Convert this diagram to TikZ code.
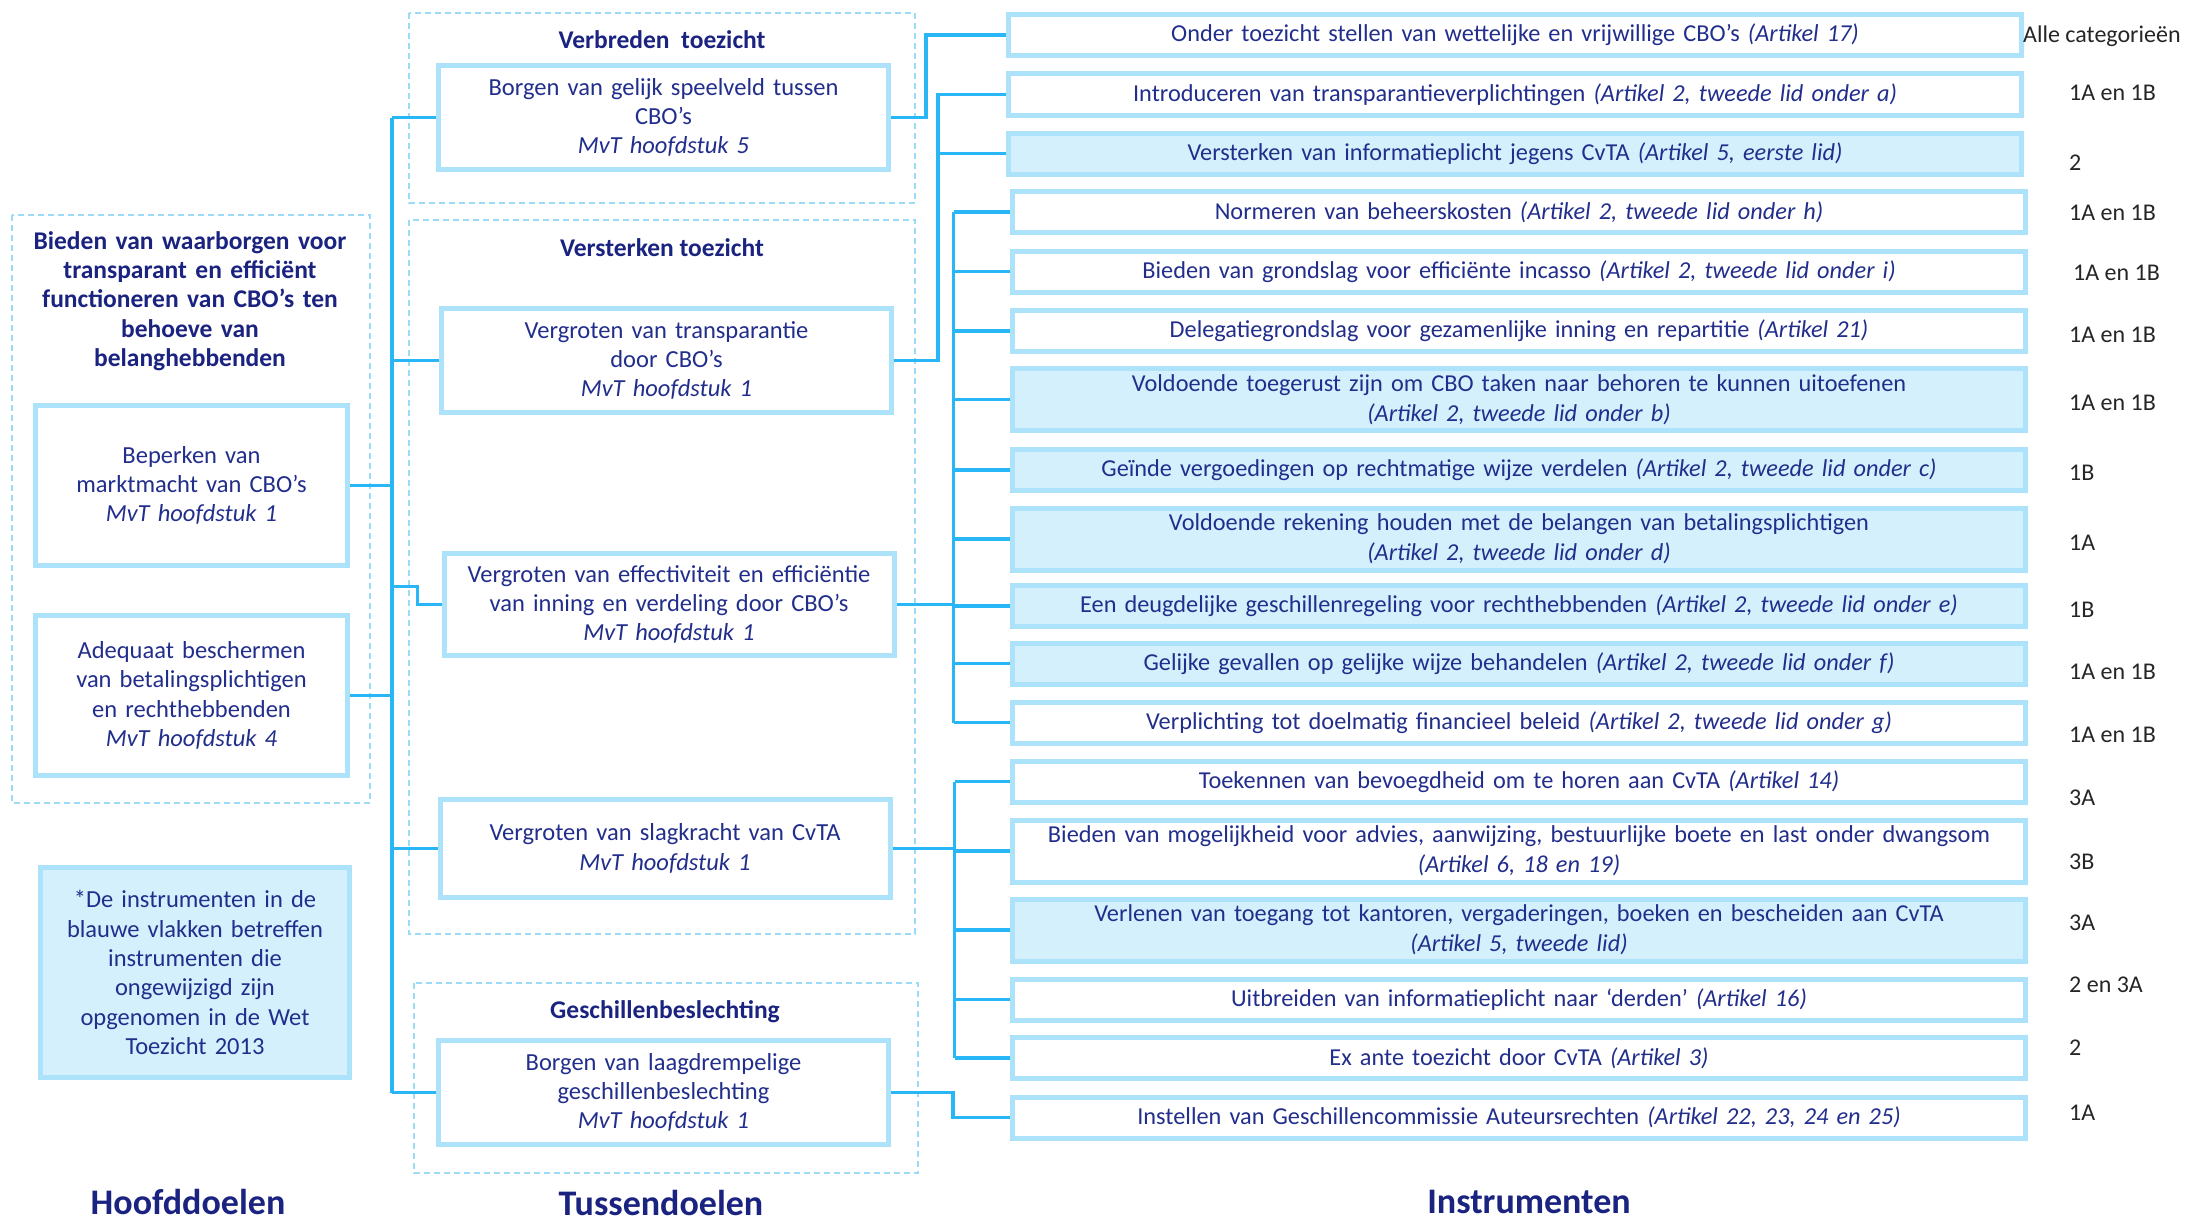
\documentclass[tikz,border=0pt]{standalone}
\usepackage{fontspec}
\setmainfont{Carlito}
\definecolor{navyc}{HTML}{222E8C}
\definecolor{titlec}{HTML}{1A2380}
\definecolor{connc}{HTML}{29B6F6}
\definecolor{bordc}{HTML}{ACE3FA}
\definecolor{fillc}{HTML}{D4F0FD}
\definecolor{dashc}{HTML}{9ADCF8}
\tikzset{
  conn/.style={draw=connc, line width=3.5pt},
  ibox/.style={draw=bordc, line width=5pt, fill=white, text=navyc, align=center, inner sep=0pt, text width=1013pt, minimum height=41pt, font=\fontsize{24.3}{30}\selectfont},
  iboxb/.style={ibox, fill=fillc},
  tall/.style={minimum height=62pt},
  mbox/.style={draw=bordc, line width=5pt, fill=white, text=navyc, align=center, inner sep=0pt, text width=450pt, minimum height=104pt, font=\fontsize{24.5}{29.3}\selectfont},
  hbox/.style={mbox, text width=312pt, minimum height=160pt},
  grp/.style={draw=dashc, line width=1.5pt, dash pattern=on 6pt off 4pt},
  ttl/.style={text=titlec, align=center, inner sep=0pt, font=\bfseries\fontsize{25.5}{29.3}\selectfont},
  cat/.style={anchor=west, text=black!85, inner sep=0pt, font=\fontsize{24}{28}\selectfont},
  colhead/.style={text=titlec, inner sep=0pt, font=\bfseries\fontsize{36}{40}\selectfont}
}
\begin{document}
\begin{tikzpicture}[x=1pt, y=-1pt]
\fill[white] (0,0) rectangle (2193,1223);
\useasboundingbox (0,0) rectangle (2193,1223);

% dashed groups
\draw[grp] (12,215) rectangle (370,803);
\draw[grp] (409,13) rectangle (915,203);
\draw[grp] (409,220) rectangle (915,934);
\draw[grp] (414,983) rectangle (918,1173);

% left column
\node[ttl, text width=340pt] (hoofdtitel) at (190,301) {Bieden van waarborgen voor\\ transparant en effici\"ent\\ functioneren van CBO’s ten\\ behoeve van\\ belanghebbenden};
\node[hbox] (h1) at (191.5,485.5) {Beperken van\\ marktmacht van CBO’s\\ \textit{MvT hoofdstuk 1}};
\node[hbox] (h2) at (191.5,695.5) {Adequaat beschermen\\ van betalingsplichtigen\\ en rechthebbenden\\ \textit{MvT hoofdstuk 4}};
\node[hbox, fill=fillc, text width=309pt, minimum height=210pt] (note) at (195,972.5) {*De instrumenten in de\\ blauwe vlakken betreffen\\ instrumenten die\\ ongewijzigd zijn\\ opgenomen in de Wet\\ Toezicht 2013};

% middle column
\node[ttl] (t1) at (662,40) {Verbreden\ \ toezicht};
\node[ttl] (t2) at (662,248) {Versterken toezicht};
\node[ttl] (t3) at (665,1012) {Geschillenbeslechting};
\node[mbox] (m1) at (663.5,117.5) {Borgen van gelijk speelveld tussen\\ CBO’s\\ \textit{MvT hoofdstuk 5}};
\node[mbox] (m2) at (666.5,360.5) {Vergroten van transparantie\\ door CBO’s\\ \textit{MvT hoofdstuk 1}};
\node[mbox, minimum height=102pt] (m3) at (669,604.5) {Vergroten van effectiviteit en effici\"entie\\ van inning en verdeling door CBO’s\\ \textit{MvT hoofdstuk 1}};
\node[mbox, minimum height=98pt] (m4) at (665,848.5) {Vergroten van slagkracht van CvTA\\ \textit{MvT hoofdstuk 1}};
\node[mbox] (m5) at (663.5,1092.5) {Borgen van laagdrempelige\\ geschillenbeslechting\\ \textit{MvT hoofdstuk 1}};

% instruments
\node[ibox] (i1) at (1515,35) {Onder toezicht stellen van wettelijke en vrijwillige CBO’s \textit{(Artikel 17)}};
\node[ibox] (i2) at (1515,94.5) {Introduceren van transparantieverplichtingen \textit{(Artikel 2, tweede lid onder a)}};
\node[iboxb] (i3) at (1515,153.5) {Versterken van informatieplicht jegens CvTA \textit{(Artikel 5, eerste lid)}};
\node[ibox] (i4) at (1519,212) {Normeren van beheerskosten \textit{(Artikel 2, tweede lid onder h)}};
\node[ibox] (i5) at (1519,271.5) {Bieden van grondslag voor effici\"ente incasso \textit{(Artikel 2, tweede lid onder i)}};
\node[ibox] (i6) at (1519,331) {Delegatiegrondslag voor gezamenlijke inning en repartitie \textit{(Artikel 21)}};
\node[iboxb, tall] (i7) at (1519,399.5) {Voldoende toegerust zijn om CBO taken naar behoren te kunnen uitoefenen\\ \textit{(Artikel 2, tweede lid onder b)}};
\node[iboxb] (i8) at (1519,470) {Ge\"inde vergoedingen op rechtmatige wijze verdelen \textit{(Artikel 2, tweede lid onder c)}};
\node[iboxb, tall] (i9) at (1519,539) {Voldoende rekening houden met de belangen van betalingsplichtigen\\ \textit{(Artikel 2, tweede lid onder d)}};
\node[iboxb] (i10) at (1519,606) {Een deugdelijke geschillenregeling voor rechthebbenden \textit{(Artikel 2, tweede lid onder e)}};
\node[iboxb] (i11) at (1519,663.5) {Gelijke gevallen op gelijke wijze behandelen \textit{(Artikel 2, tweede lid onder f)}};
\node[ibox] (i12) at (1519,722.5) {Verplichting tot doelmatig financieel beleid \textit{(Artikel 2, tweede lid onder g)}};
\node[ibox] (i13) at (1519,781.5) {Toekennen van bevoegdheid om te horen aan CvTA \textit{(Artikel 14)}};
\node[ibox, tall] (i14) at (1519,851) {Bieden van mogelijkheid voor advies, aanwijzing, bestuurlijke boete en last onder dwangsom\\ \textit{(Artikel 6, 18 en 19)}};
\node[iboxb, tall] (i15) at (1519,930) {Verlenen van toegang tot kantoren, vergaderingen, boeken en bescheiden aan CvTA\\ \textit{(Artikel 5, tweede lid)}};
\node[ibox] (i16) at (1519,999.5) {Uitbreiden van informatieplicht naar ‘derden’ \textit{(Artikel 16)}};
\node[ibox] (i17) at (1519,1058) {Ex ante toezicht door CvTA \textit{(Artikel 3)}};
\node[ibox] (i18) at (1519,1117.5) {Instellen van Geschillencommissie Auteursrechten \textit{(Artikel 22, 23, 24 en 25)}};

% categories
\node[cat] (c1) at (2023,36) {Alle categorie\"en};
\node[cat] (c2) at (2069,93) {1A en 1B};
\node[cat] (c3) at (2069,163) {2};
\node[cat] (c4) at (2069,213) {1A en 1B};
\node[cat] (c5) at (2073,273) {1A en 1B};
\node[cat] (c6) at (2069,335) {1A en 1B};
\node[cat] (c7) at (2069,403) {1A en 1B};
\node[cat] (c8) at (2069,473) {1B};
\node[cat] (c9) at (2069,543) {1A};
\node[cat] (c10) at (2069,610) {1B};
\node[cat] (c11) at (2069,672) {1A en 1B};
\node[cat] (c12) at (2069,735) {1A en 1B};
\node[cat] (c13) at (2069,798) {3A};
\node[cat] (c14) at (2069,862) {3B};
\node[cat] (c15) at (2069,923) {3A};
\node[cat] (c16) at (2069,985) {2 en 3A};
\node[cat] (c17) at (2069,1048) {2};
\node[cat] (c18) at (2069,1113) {1A};

% column headings
\node[colhead] (k1) at (188,1202) {Hoofddoelen};
\node[colhead] (k2) at (661,1203) {Tussendoelen};
\node[colhead] (k3) at (1529,1202) {Instrumenten};

% left spine
\coordinate (lsp) at (392,0);
\draw[conn] (lsp |- m1.west) -- (lsp |- m5.west);
\draw[conn] (h1.east) -- (lsp |- h1.east);
\draw[conn] (h2.east) -- (lsp |- h2.east);
\draw[conn] (lsp |- m1.west) -- (m1.west);
\draw[conn] (lsp |- m2.west) -- (m2.west);
\draw[conn] (m3.west) -- ++(-24,0) |- ([yshift=18pt]m3.west -| lsp);
\draw[conn] (lsp |- m4.west) -- (m4.west);
\draw[conn] (lsp |- m5.west) -- (m5.west);

% middle to instruments
\draw[conn] (m1.east) -- ++(35,0) |- (i1.west);
\draw[conn] (m2.east) -- ++(44,0) coordinate (s2) |- (i2.west);
\draw[conn] (s2 |- i3.west) -- (i3.west);
\draw[conn] (m3.east) -- ++(57,0) coordinate (s3);
\draw[conn] (s3 |- i4.west) -- (s3 |- i12.west);
\foreach \k in {4,...,12} \draw[conn] (s3 |- i\k.west) -- (i\k.west);
\draw[conn] (m4.east) -- ++(62,0) coordinate (s4);
\draw[conn] (s4 |- i13.west) -- (s4 |- i17.west);
\foreach \k in {13,...,17} \draw[conn] (s4 |- i\k.west) -- (i\k.west);
\draw[conn] (m5.east) -- ++(62,0) |- (i18.west);
\end{tikzpicture}
\end{document}
